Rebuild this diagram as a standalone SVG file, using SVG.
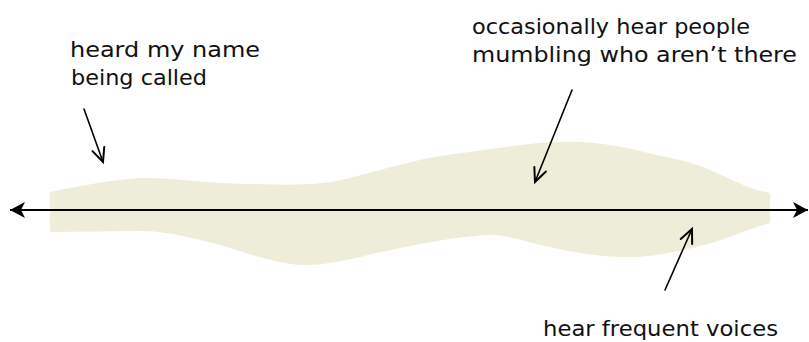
<svg xmlns="http://www.w3.org/2000/svg" width="809" height="342" viewBox="0 0 809 342">
<style>
.lbl{font-family:"DejaVu Sans","Liberation Sans",sans-serif;font-size:21px;fill:#111;}
.call{fill:none;stroke:#000;stroke-width:1.6;stroke-linecap:round;}
.axis{fill:none;stroke:#000;stroke-width:2;}
</style>
<defs>
<marker id="open" markerUnits="userSpaceOnUse" markerWidth="20" markerHeight="20" refX="0" refY="0" viewBox="-12 -8 14 16" orient="auto">
<path d="M-11,-5 L0,0 L-11,5" fill="none" stroke="#000" stroke-width="1.6" stroke-linecap="round" stroke-linejoin="miter"/>
</marker>
<marker id="solid" markerUnits="userSpaceOnUse" markerWidth="20" markerHeight="20" refX="0" refY="0" viewBox="-16 -10 18 20" orient="auto-start-reverse">
<path d="M0,0 L-15,-8 L-11,0 L-15,8 Z" fill="#000"/>
</marker>
</defs>
<g id="band">
<path d="M50,192 C80,186 110,180 140,178 C170,177 200,183 250,184 C290,185 320,186 350,178 C390,168 420,157 470,152 C510,147 540,140 580,142 C620,144 640,152 680,160 C720,170 740,188 770,193 L770,223 C740,232 720,242 700,246 C670,253 650,258 620,257 C590,256 560,250 530,242 C510,237 500,235 493,235 C470,235 440,240 400,248 C360,256 330,266 303,265 C270,264 230,246 200,240 C175,234 160,231 140,231 L50,232 Z" fill="#EEEDDA"/>
</g>
<g id="connectors">
<line class="axis" x1="10" y1="210" x2="808" y2="210" marker-start="url(#solid)" marker-end="url(#solid)"/>
<line class="call" x1="84" y1="109" x2="103" y2="162" marker-end="url(#open)"/>
<line class="call" x1="572" y1="90" x2="535" y2="182" marker-end="url(#open)"/>
<line class="call" x1="665" y1="290" x2="692" y2="229" marker-end="url(#open)"/>
</g>
<g id="label-name">
<text class="lbl" x="70" y="57" textLength="190" lengthAdjust="spacingAndGlyphs">heard my name</text>
<text class="lbl" x="71" y="85" textLength="136" lengthAdjust="spacingAndGlyphs">being called</text>
</g>
<g id="label-mumbling">
<text class="lbl" x="472" y="34" textLength="278" lengthAdjust="spacingAndGlyphs">occasionally hear people</text>
<text class="lbl" x="472" y="62" textLength="325" lengthAdjust="spacingAndGlyphs">mumbling who aren’t there</text>
</g>
<g id="label-voices">
<text class="lbl" x="543" y="336" textLength="235" lengthAdjust="spacingAndGlyphs">hear frequent voices</text>
</g>
</svg>
